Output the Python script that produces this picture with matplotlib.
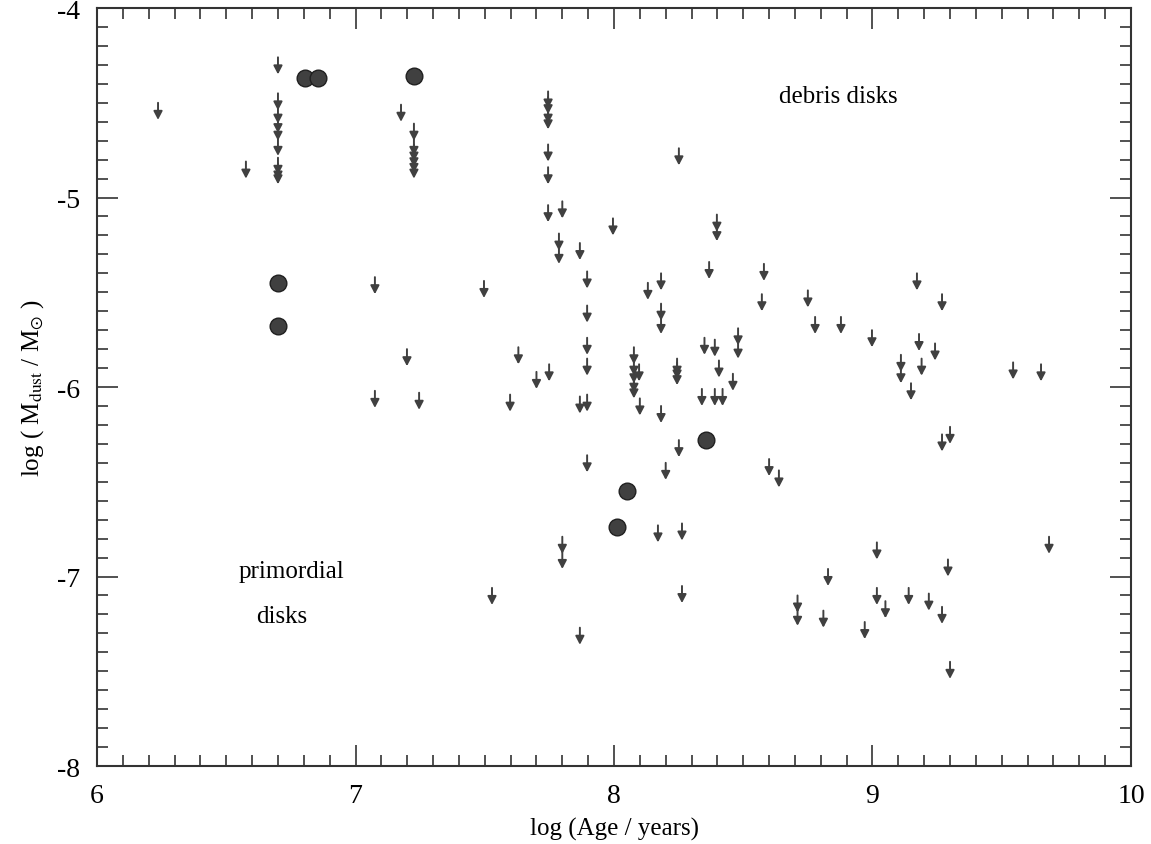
import numpy as np
import matplotlib.pyplot as plt
from matplotlib.ticker import MultipleLocator

# upper limits: log age, log dust mass (top of arrow)
lim_age = [6.236, 6.576,
           6.70, 6.70, 6.70, 6.70, 6.70, 6.70, 6.70, 6.70, 6.70,
           7.176, 7.226, 7.226, 7.226, 7.226, 7.226, 7.226,
           7.075, 7.075, 7.199, 7.246, 7.497, 7.528, 7.598, 7.63, 7.70,
           7.745, 7.745, 7.745, 7.745, 7.745, 7.745, 7.745, 7.749,
           7.80, 7.80, 7.80, 7.787, 7.787, 7.868, 7.868, 7.868,
           7.896, 7.896, 7.896, 7.896, 7.896, 7.896, 7.996,
           8.077, 8.077, 8.077, 8.077, 8.077, 8.097, 8.10, 8.131, 8.17,
           8.182, 8.182, 8.182, 8.182, 8.20, 8.244, 8.244, 8.244,
           8.251, 8.251, 8.263, 8.263, 8.34, 8.35, 8.368, 8.39, 8.39,
           8.398, 8.398, 8.406, 8.42, 8.46, 8.48, 8.48, 8.572, 8.58,
           8.60, 8.638, 8.71, 8.71, 8.75, 8.778, 8.81, 8.828, 8.878,
           8.97, 8.998, 9.017, 9.017, 9.05, 9.11, 9.11, 9.14, 9.149,
           9.172, 9.18, 9.19, 9.218, 9.242, 9.269, 9.269, 9.269, 9.292,
           9.30, 9.30, 9.544, 9.652, 9.683]
lim_mass = [-4.50, -4.81,
            -4.26, -4.45, -4.52, -4.57, -4.61, -4.69, -4.79, -4.82, -4.84,
            -4.51, -4.61, -4.69, -4.72, -4.75, -4.78, -4.81,
            -5.42, -6.02, -5.80, -6.03, -5.44, -7.06, -6.04, -5.79, -5.92,
            -4.44, -4.47, -4.52, -4.55, -4.72, -4.84, -5.04, -5.88,
            -5.02, -6.79, -6.87, -5.19, -5.26, -5.24, -6.05, -7.27,
            -5.39, -5.57, -5.74, -5.85, -6.04, -6.36, -5.11,
            -5.79, -5.85, -5.89, -5.94, -5.97, -5.88, -6.06, -5.45, -6.73,
            -5.40, -5.56, -5.63, -6.10, -6.40, -5.85, -5.87, -5.90,
            -4.74, -6.28, -6.72, -7.05, -6.01, -5.74, -5.34, -5.75, -6.01,
            -5.09, -5.14, -5.86, -6.01, -5.93, -5.69, -5.76, -5.51, -5.35,
            -6.38, -6.44, -7.10, -7.17, -5.49, -5.63, -7.18, -6.96, -5.63,
            -7.24, -5.70, -6.82, -7.06, -7.13, -5.83, -5.89, -7.06, -5.98,
            -5.40, -5.72, -5.85, -7.09, -5.77, -5.51, -6.25, -7.16, -6.91,
            -6.21, -7.45, -5.87, -5.88, -6.79]

# detections
det_age = [6.805, 6.855, 7.226, 6.70, 6.70, 8.356, 8.05, 8.01]
det_mass = [-4.37, -4.37, -4.36, -5.45, -5.68, -6.28, -6.55, -6.74]

arrow_len = 0.09

plt.rcParams['font.family'] = ['Liberation Serif', 'DejaVu Serif']
plt.rcParams['mathtext.fontset'] = 'stix'
plt.rcParams['axes.unicode_minus'] = False

fig = plt.figure(figsize=(11.51, 8.45), dpi=100)
ax = fig.add_axes([0.0843, 0.0923, 0.8983, 0.897])

for xa, ya in zip(lim_age, lim_mass):
    ax.annotate('', xy=(xa, ya - arrow_len), xytext=(xa, ya),
                arrowprops=dict(arrowstyle='-|>,head_length=0.5,head_width=0.26',
                                color='#404040', lw=1.4, shrinkA=0, shrinkB=0,
                                mutation_scale=10))

ax.plot(det_age, det_mass, 'o', ms=12, color='#404040',
        mec='#202020', mew=1.0)

ax.text(8.866, -4.464, 'debris disks', fontsize=18, ha='center', va='center')
ax.text(6.754, -6.971, 'primordial', fontsize=18, ha='center', va='center')
ax.text(6.716, -7.208, 'disks', fontsize=18, ha='center', va='center')

ax.set_xlim(6, 10)
ax.set_ylim(-8, -4)
ax.xaxis.set_major_locator(MultipleLocator(1))
ax.xaxis.set_minor_locator(MultipleLocator(0.1))
ax.yaxis.set_major_locator(MultipleLocator(1))
ax.yaxis.set_minor_locator(MultipleLocator(0.1))
ax.tick_params(which='both', direction='in', top=True, right=True,
               color='#333333', width=1.2)
ax.tick_params(which='major', length=15, labelsize=20, pad=12)
ax.tick_params(which='minor', length=8)
for s in ax.spines.values():
    s.set_linewidth(1.5)
    s.set_color('#333333')

ax.set_xlabel('log (Age / years)', fontsize=18, labelpad=7)
ax.set_ylabel(r'log ( M$_{\rm dust}$ / M$_{\odot}$ )', fontsize=18, labelpad=8)

fig.savefig('out.png', dpi=100)
